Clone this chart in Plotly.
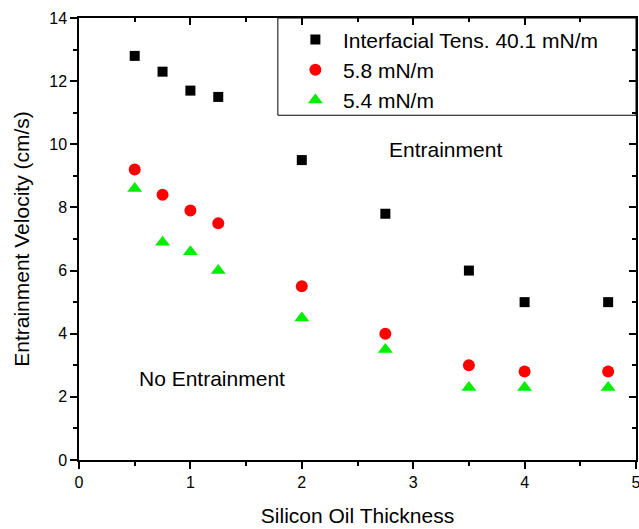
import plotly.graph_objects as go

# Silicon oil thickness (x) shared by all three series
thickness = [0.5, 0.75, 1.0, 1.25, 2.0, 2.75, 3.5, 4.0, 4.75]

# Entrainment velocity (cm/s) for each interfacial tension
vel_40_1 = [12.8, 12.3, 11.7, 11.5, 9.5, 7.8, 6.0, 5.0, 5.0]
vel_5_8 = [9.2, 8.4, 7.9, 7.5, 5.5, 4.0, 3.0, 2.8, 2.8]
vel_5_4 = [8.6, 6.9, 6.6, 6.0, 4.5, 3.5, 2.3, 2.3, 2.3]

series_names = ["Interfacial Tens. 40.1 mN/m", "5.8 mN/m", "5.4 mN/m"]

FONT = "Liberation Sans, Arial, sans-serif"

fig = go.Figure()
fig.add_trace(go.Scatter(x=thickness, y=vel_40_1, mode="markers", name=series_names[0],
                         marker=dict(symbol="square", size=10, color="black")))
fig.add_trace(go.Scatter(x=thickness, y=vel_5_8, mode="markers", name=series_names[1],
                         marker=dict(symbol="circle", size=12, color="#ff0000")))
fig.add_trace(go.Scatter(x=thickness, y=vel_5_4, mode="markers", name=series_names[2],
                         marker=dict(symbol="triangle-up", size=13, color="#00ee00")))
# empty trace so the top/right frame axes get drawn
fig.add_trace(go.Scatter(x=[None], y=[None], xaxis="x2", yaxis="y2", showlegend=False,
                         hoverinfo="skip"))

tick_font = dict(family=FONT, size=16, color="black")

fig.update_layout(
    width=639, height=529,
    margin=dict(l=79, r=3, t=18, b=69, autoexpand=False),
    paper_bgcolor="white", plot_bgcolor="white",
    font=dict(family=FONT, color="black"),
    showlegend=True,
    legend=dict(x=0.375, y=0.997, xanchor="left", yanchor="top",
                bgcolor="rgba(0,0,0,0)", borderwidth=0,
                font=dict(family=FONT, size=21, color="black"),
                itemwidth=45, tracegroupgap=0),
    xaxis=dict(range=[0, 5], dtick=1, tick0=0, showgrid=False, zeroline=False,
               showline=True, linecolor="black", linewidth=1.5,
               ticks="outside", ticklen=7, tickwidth=1.5, tickcolor="black",
               minor=dict(dtick=0.5, ticks="outside", ticklen=4, tickwidth=1.5, tickcolor="black"),
               tickfont=tick_font, ticklabeloverflow="allow", automargin=False,
               title=dict(text="Silicon Oil Thickness", font=dict(family=FONT, size=21),
                          standoff=18)),
    yaxis=dict(range=[0, 14], dtick=2, tick0=0, showgrid=False, zeroline=False,
               showline=True, linecolor="black", linewidth=1.5,
               ticks="outside", ticklen=7, tickwidth=1.5, tickcolor="black",
               minor=dict(dtick=1, ticks="outside", ticklen=4, tickwidth=1.5, tickcolor="black"),
               tickfont=tick_font, automargin=False,
               title=dict(text="Entrainment Velocity (cm/s)", font=dict(family=FONT, size=21),
                          standoff=14)),
    xaxis2=dict(range=[0, 5], overlaying="x", side="top", dtick=1, tick0=0,
                showgrid=False, zeroline=False, showticklabels=False, automargin=False,
                showline=True, linecolor="black", linewidth=1.5,
                ticks="inside", ticklen=7, tickwidth=1.5, tickcolor="black",
                minor=dict(dtick=0.5, ticks="inside", ticklen=4, tickwidth=1.5, tickcolor="black")),
    yaxis2=dict(range=[0, 14], overlaying="y", side="right", dtick=2, tick0=0,
                showgrid=False, zeroline=False, showticklabels=False, automargin=False,
                showline=True, linecolor="black", linewidth=1.5,
                ticks="inside", ticklen=7, tickwidth=1.5, tickcolor="black",
                minor=dict(dtick=1, ticks="inside", ticklen=4, tickwidth=1.5, tickcolor="black")),
    shapes=[dict(type="rect", xref="paper", yref="paper", x0=0.357, x1=1.0, y0=0.78, y1=1.0,
                 line=dict(color="black", width=1), fillcolor="rgba(0,0,0,0)")],
    annotations=[
        dict(x=3.29, y=9.84, xref="x", yref="y", text="Entrainment", showarrow=False,
             font=dict(family=FONT, size=21, color="black")),
        dict(x=1.19, y=2.57, xref="x", yref="y", text="No Entrainment", showarrow=False,
             font=dict(family=FONT, size=21, color="black")),
    ],
)

fig.write_html("out.html")
